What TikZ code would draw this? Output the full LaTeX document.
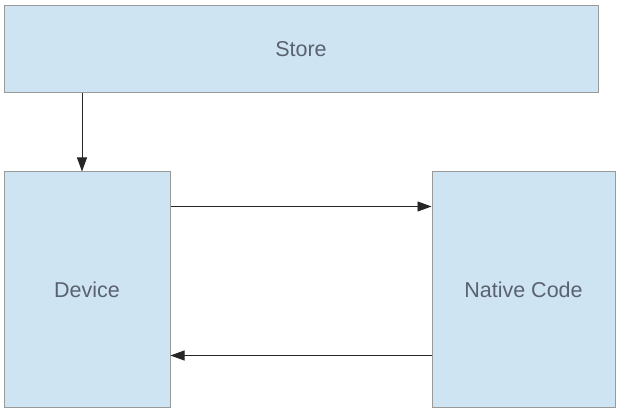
\documentclass[tikz,border=0pt]{standalone}
\usepackage{fontspec}
\setmainfont{Liberation Sans}
\usetikzlibrary{arrows.meta}
\definecolor{boxfill}{HTML}{CFE4F2}
\definecolor{boxline}{HTML}{9A9A9A}
\definecolor{boxtext}{HTML}{5A6270}

\begin{document}
\begin{tikzpicture}[x=1pt,y=-1pt,
  box/.style={shape=rectangle,draw=boxline,fill=boxfill,line width=1pt,text=boxtext,font=\fontsize{21.5}{26}\selectfont,inner sep=0pt},
  link/.style={draw=black!85,line width=0.9pt,-{Triangle[length=14pt,width=10pt]}}]
\useasboundingbox (0,0) rectangle (626,419);
\node[box,minimum width=594pt,minimum height=87pt] (S) at (301,49.5) {Store};
\node[box,minimum width=166pt,minimum height=235pt] (D) at (87,289.5) {Device};
\node[box,minimum width=183pt,minimum height=235pt] (N) at (523.5,289.5) {Native Code};
\draw [link] ([xshift=-5pt]D.north |- S.south) -- ([xshift=-5pt]D.north);
\draw [link] ([yshift=-35pt]D.north east) -- ([yshift=-35pt]D.north east -| N.west);
\draw [link] ([yshift=52pt]N.south west) -- ([yshift=52pt]N.south west -| D.east);
\end{tikzpicture}
\end{document}
